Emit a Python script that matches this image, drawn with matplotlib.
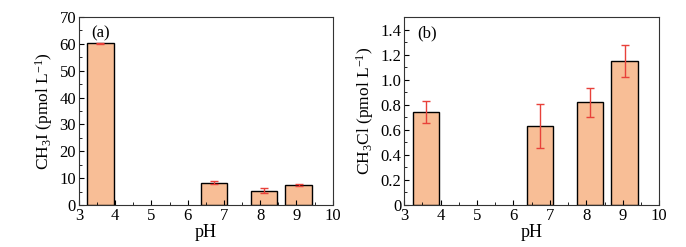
import numpy as np
import matplotlib.pyplot as plt
from matplotlib.ticker import MultipleLocator

# pH values and measured concentrations
ph_a = [3.59, 6.72, 8.11, 9.06]
ch3i = [60.2, 8.3, 5.3, 7.4]
ch3i_err = [0.3, 0.6, 0.9, 0.3]

ph_b = [3.60, 6.73, 8.10, 9.05]
ch3cl = [0.74, 0.63, 0.82, 1.15]
ch3cl_err = [0.087, 0.175, 0.114, 0.13]

plt.rcParams['font.family'] = ['Liberation Serif', 'DejaVu Serif']
plt.rcParams['mathtext.fontset'] = 'custom'
plt.rcParams['mathtext.rm'] = 'Liberation Serif'
plt.rcParams['mathtext.it'] = 'Liberation Serif:italic'

fig = plt.figure(figsize=(6.86, 2.47), dpi=100)
ax1 = fig.add_axes([0.115, 0.170, 0.370, 0.761])
ax2 = fig.add_axes([0.589, 0.170, 0.372, 0.761])

bar_color = '#F8BE96'

def draw(ax, x, y, err, ylim, ymajor, ylabel, tag, fmt):
    ax.bar(x, y, width=0.73, color=bar_color, edgecolor='black', linewidth=1.0)
    ax.errorbar(x, y, yerr=err, fmt='none', ecolor='#E8413A', elinewidth=1.0,
                capsize=3, capthick=1.0)
    ax.set_xlim(3, 10)
    ax.set_ylim(*ylim)
    ax.xaxis.set_major_locator(MultipleLocator(1))
    ax.xaxis.set_minor_locator(MultipleLocator(0.5))
    ax.yaxis.set_major_locator(MultipleLocator(ymajor))
    ax.yaxis.set_minor_locator(MultipleLocator(ymajor / 2))
    ax.tick_params(which='both', direction='in', labelsize=12, top=False, right=False)
    ax.tick_params(which='major', length=3.5, pad=2)
    ax.tick_params(which='minor', length=2)
    ax.yaxis.set_major_formatter(fmt)
    ax.set_xlabel('pH', fontsize=13, labelpad=0)
    ax.set_ylabel(ylabel, fontsize=12.5, labelpad=3)
    ax.text(0.05, 0.955, tag, transform=ax.transAxes, fontsize=12, va='top')
    for s in ax.spines.values():
        s.set_linewidth(0.8)
        s.set_color('#333333')

draw(ax1, ph_a, ch3i, ch3i_err, (0, 70), 10,
     r'CH$_\mathrm{3}$I (pmol L$^\mathrm{-1}$)', '(a)',
     plt.FuncFormatter(lambda v, p: f'{v:.0f}'))
draw(ax2, ph_b, ch3cl, ch3cl_err, (0, 1.5), 0.2,
     r'CH$_\mathrm{3}$Cl (pmol L$^\mathrm{-1}$)', '(b)',
     plt.FuncFormatter(lambda v, p: '0' if abs(v) < 1e-9 else f'{v:.1f}'))

fig.savefig('out.png', dpi=100)
